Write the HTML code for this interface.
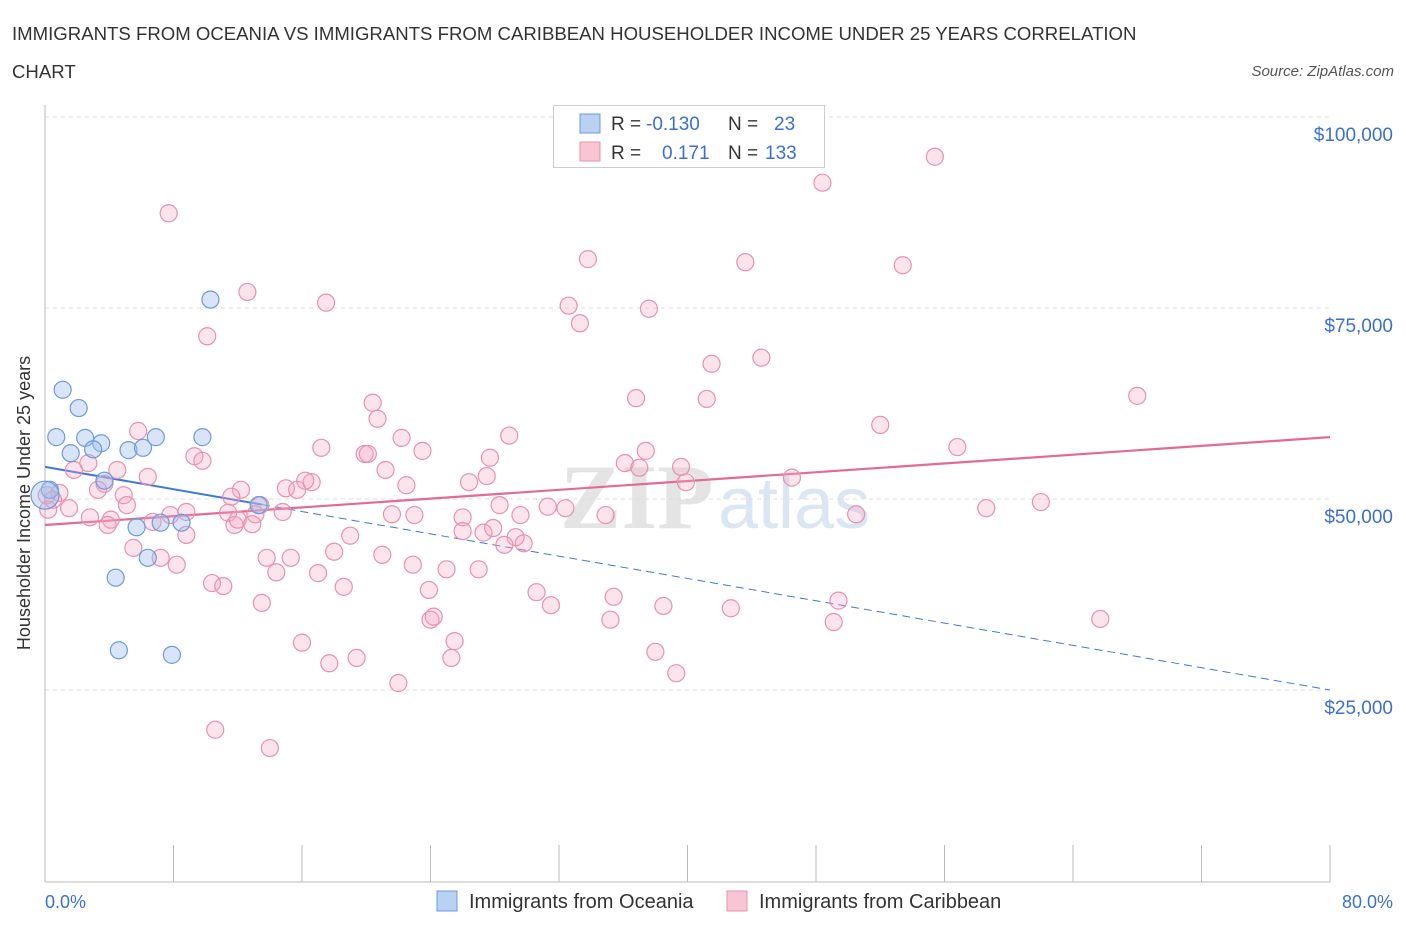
<!DOCTYPE html>
<html><head><meta charset="utf-8">
<style>
body{margin:0;background:#fff;font-family:"Liberation Sans",sans-serif;}
#wrap{position:relative;width:1406px;height:930px;overflow:hidden;}
</style></head>
<body>
<div id="wrap">
<svg id="chart" width="1406" height="930" xmlns="http://www.w3.org/2000/svg">
<text x="12" y="40" font-size="18.6" fill="#333">IMMIGRANTS FROM OCEANIA VS IMMIGRANTS FROM CARIBBEAN HOUSEHOLDER INCOME UNDER 25 YEARS CORRELATION</text>
<text x="12" y="78" font-size="18.6" fill="#333">CHART</text>
<text x="1394" y="76" font-size="15" fill="#555" font-style="italic" text-anchor="end">Source: ZipAtlas.com</text>
<text x="560" y="528" font-size="92" fill="#e4e4e4" font-family="Liberation Serif,serif" font-weight="bold">ZIP</text>
<text x="718" y="528" font-size="72" fill="#dbe6f4">atlas</text>
<g id="grid"></g><g id="axes"></g><g id="lines"></g><g id="pts"></g>
<text x="22" y="495" font-size="18" fill="#333" text-anchor="middle" transform="rotate(-90 30 495)">Householder Income Under 25 years</text>
<text x="45" y="908" font-size="18" fill="#3b6fd4">0.0%</text>
<text x="1393" y="908" font-size="18" fill="#3b6fd4" text-anchor="end">80.0%</text>
<g>
<rect x="553.5" y="105.5" width="271" height="62" fill="#fff" stroke="#ccc"/>
<rect x="580" y="114" width="20" height="19" fill="#b9d1f3" stroke="#6a9be0"/>
<rect x="580" y="142" width="20" height="19" fill="#f8c5d5" stroke="#e891ad"/>
<text x="611" y="130" font-size="19" fill="#333">R =</text>
<text x="646" y="130" font-size="19" fill="#3b6fd4">-0.130</text>
<text x="728" y="130" font-size="19" fill="#333">N =</text>
<text x="774" y="130" font-size="19" fill="#3b6fd4">23</text>
<text x="611" y="159" font-size="19" fill="#333">R =</text>
<text x="662" y="159" font-size="19" fill="#3b6fd4">0.171</text>
<text x="728" y="159" font-size="19" fill="#333">N =</text>
<text x="765" y="159" font-size="19" fill="#3b6fd4">133</text>
</g>
<g>
<rect x="437" y="891" width="20" height="20" fill="#b9d1f3" stroke="#6a9be0"/>
<text x="469" y="908" font-size="20" fill="#333">Immigrants from Oceania</text>
<rect x="727" y="891" width="20" height="20" fill="#f8c5d5" stroke="#e891ad"/>
<text x="759" y="908" font-size="20" fill="#333">Immigrants from Caribbean</text>
</g>
</svg>
</div>
<script>
const yTicks=[25000,50000,75000,100000];
const yTickLabels=["$25,000","$50,000","$75,000","$100,000"];
const xTicks=[0,8,16,24,32,40,48,56,64,72,80];
const pinkX=[7.7,55.4,48.4,33.8,43.6,53.4,12.6,17.5,32.6,37.6,33.3,10.1,44.6,41.5,68.0,36.8,41.2,20.4,20.7,52.0,5.8,28.9,22.2,56.8,17.2,23.5,37.4,9.3,19.9,20.1,36.1,27.7,2.7,9.8,21.2,37.0,39.6,4.5,6.4,46.5,1.8,26.4,22.5,27.5,39.9,16.6,16.2,3.7,15.0,15.7,12.2,3.3,4.9,11.6,5.1,0.9,0.5,1.5,13.4,13.1,28.3,32.4,31.3,62.0,58.6,50.5,34.9,14.8,21.6,23.0,11.4,8.8,7.8,2.8,4.1,3.9,26.0,29.6,6.7,11.8,12.0,12.9,26.0,27.3,27.9,29.3,29.8,28.6,8.8,19.0,18.0,5.5,7.2,13.8,15.3,21.0,22.9,8.2,14.4,17.0,25.0,27.0,10.4,11.1,18.6,23.9,30.6,35.4,38.5,31.5,42.7,49.4,13.5,35.2,24.0,24.2,49.1,65.7,25.5,16.0,38.0,25.3,19.4,17.7,39.3,22.0,10.6,14.0,0.1,0.2];
const pinkY=[87.4,94.8,91.4,81.4,81.0,80.6,77.1,75.7,75.3,74.9,73.0,71.3,68.5,67.7,63.5,63.2,63.1,62.6,60.5,59.7,58.9,58.3,58.0,56.8,56.7,56.3,56.3,55.6,55.9,55.9,54.7,55.4,54.7,55.0,53.8,54.1,54.2,53.8,52.9,52.8,53.8,52.2,51.8,53.0,52.2,52.2,52.4,52.0,51.4,51.2,51.2,51.2,50.5,50.3,49.2,50.8,49.9,48.8,49.2,48.0,49.2,48.8,49.0,49.6,48.8,48.0,47.9,48.3,48.0,47.9,48.2,48.3,47.9,47.6,47.3,46.6,47.6,47.9,47.0,46.6,47.3,46.7,45.8,45.6,46.2,45.0,44.2,44.0,45.3,45.2,43.1,43.6,42.3,42.3,42.3,42.7,41.4,41.4,40.4,40.3,40.8,40.8,39.0,38.6,38.5,38.1,37.8,37.2,36.0,36.1,35.7,36.7,36.4,34.2,34.2,34.6,33.9,34.3,31.4,31.2,30.0,29.2,29.2,28.5,27.2,25.9,19.8,17.4,50.5,48.6];
const blueX=[1.1,2.1,10.3,0.7,2.5,3.5,1.6,3.0,5.2,6.1,6.9,9.8,3.7,13.3,0.3,5.7,7.2,8.5,6.4,4.4,4.6,7.9,0.0];
const blueY=[64.3,61.9,76.1,58.1,58.0,57.3,56.0,56.5,56.4,56.7,58.1,58.1,52.4,49.2,51.2,46.3,46.9,46.9,42.3,39.7,30.2,29.6,50.5];
const blueTrend=[54.2,25.0];
const pinkTrend=[46.6,58.1];
const blueSolidEnd=13.5;

const NS="http://www.w3.org/2000/svg";
const X0=45,X1=1330,Y0=881,YPER=191/25000;
const sx=v=>X0+(v/80)*(X1-X0);
const sy=v=>Y0-v*YPER;
function mk(tag,attrs,parent){const e=document.createElementNS(NS,tag);for(const k in attrs)e.setAttribute(k,attrs[k]);document.getElementById(parent).appendChild(e);return e;}

yTicks.forEach((t,i)=>{
  const g=mk('line',{x1:45,x2:1330,y1:sy(t),y2:sy(t),stroke:'#ddd','stroke-dasharray':'4,4'},'grid');
  
  
  const l=mk('text',{x:1393,y:sy(t)+24,'font-size':19,fill:'#3b6fd4','text-anchor':'end'},'grid');
  l.textContent=yTickLabels[i];
  
  
});
const topGrid=mk('line',{x1:45,x2:1330,y1:117,y2:117,stroke:'#ddd','stroke-dasharray':'4,4'},'grid');


const ya=mk('line',{x1:45,x2:45,y1:105,y2:882,stroke:'#bbb'},'axes');


const xa=mk('line',{x1:45,x2:1330,y1:882,y2:882,stroke:'#bbb'},'axes');


xTicks.forEach(t=>{
  const k=mk('line',{x1:sx(t),x2:sx(t),y1:845,y2:882,stroke:'#bbb'},'axes');
  
  
});

function dot(x,y,r,fill,stroke,name){
  const c=mk('circle',{cx:sx(x),cy:sy(y*1000),r:r,fill:fill,stroke:stroke,'stroke-width':1.2},'pts');
  
  
}
pinkX.forEach((x,i)=>dot(x,pinkY[i],8.5,'rgba(244,166,192,0.3)','#e891ad','caribbean-point'));
blueX.forEach((x,i)=>dot(x,blueY[i],i===blueX.length-1?14:8.5,'rgba(160,190,235,0.4)','#6a9be0','oceania-point'));

const by=x=>blueTrend[0]+(blueTrend[1]-blueTrend[0])*x/80;
const b1=mk('line',{x1:sx(0),y1:sy(by(0)*1000),x2:sx(blueSolidEnd),y2:sy(by(blueSolidEnd)*1000),stroke:'#3b7ad8','stroke-width':2},'lines');


const b2=mk('line',{x1:sx(blueSolidEnd),y1:sy(by(blueSolidEnd)*1000),x2:sx(80),y2:sy(by(80)*1000),stroke:'#3b7ad8','stroke-width':1,'stroke-dasharray':'8,5'},'lines');


const p1=mk('line',{x1:sx(0),y1:sy(pinkTrend[0]*1000),x2:sx(80),y2:sy(pinkTrend[1]*1000),stroke:'#e36a95','stroke-width':2.2},'lines');


</script>
</body></html>
